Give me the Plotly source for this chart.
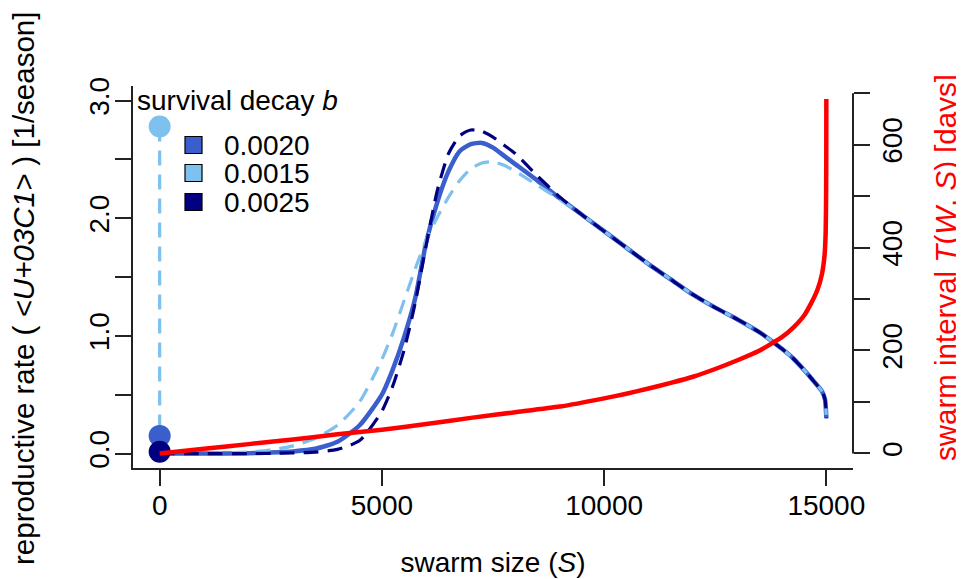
import plotly.graph_objects as go

# ---------------- data ----------------
S = [0, 1000, 2000, 2500, 3000, 3500, 4000, 4500, 5000,
     5250, 5500, 5750, 6000, 6250, 6500, 6750, 7000, 7250, 7500, 7750, 8000,
     8500, 9000, 9500, 10000, 10500, 11000, 11500, 12000, 12500, 13000, 13500, 14000,
     14250, 14500, 14750, 14900, 14970, 15000]

rho_b0020 = [0.0, 0.0, 0.003, 0.008, 0.018, 0.04, 0.10, 0.24, 0.50,
             0.72, 0.99, 1.32, 1.80, 2.14, 2.40, 2.57, 2.63, 2.64, 2.60, 2.53, 2.46,
             2.32, 2.17, 2.03, 1.89, 1.75, 1.61, 1.48, 1.35, 1.24, 1.14, 1.03, 0.89,
             0.81, 0.71, 0.60, 0.53, 0.46, 0.30]

rho_b0015 = [0.0, 0.002, 0.012, 0.03, 0.065, 0.13, 0.24, 0.44, 0.80,
             1.03, 1.30, 1.57, 1.82, 2.01, 2.18, 2.32, 2.42, 2.47, 2.48, 2.45, 2.40,
             2.28, 2.16, 2.03, 1.89, 1.75, 1.61, 1.48, 1.35, 1.24, 1.14, 1.03, 0.89,
             0.81, 0.71, 0.60, 0.53, 0.46, 0.30]

rho_b0025 = [0.0, 0.0, 0.0, 0.002, 0.005, 0.012, 0.035, 0.11, 0.36,
             0.58, 0.88, 1.28, 1.78, 2.24, 2.55, 2.70, 2.75, 2.74, 2.69, 2.62, 2.55,
             2.36, 2.18, 2.03, 1.89, 1.75, 1.61, 1.48, 1.35, 1.24, 1.14, 1.03, 0.89,
             0.81, 0.71, 0.60, 0.53, 0.46, 0.30]

# value of rho at S = 0 for each b
rho0 = {"0.0020": 0.15, "0.0015": 2.78, "0.0025": 0.015}

S_T = [0, 1000, 2000, 3000, 4000, 5000, 6000, 7000, 8000, 9000, 10000, 10500,
       11000, 11500, 12000, 12500, 13000, 13500, 14000, 14250, 14500, 14660,
       14800, 14900, 14960, 14985, 14995, 14999, 15000]
T_days = [0, 9, 18, 27, 37, 46, 57, 69, 80, 91, 107, 116,
          126, 137, 149, 164, 181, 200, 226, 244, 268, 292,
          318, 348, 385, 430, 500, 590, 689]

legend_labels = ["0.0020", "0.0015", "0.0025"]
x_ticks = [0, 5000, 10000, 15000]
y_ticks = [0, 0.5, 1.0, 1.5, 2.0, 2.5, 3.0]
y_ticktext = ["0.0", "", "1.0", "", "2.0", "", "3.0"]
y2_ticks = [0, 100, 200, 300, 400, 500, 600, 700]
y2_ticktext = ["0", "", "200", "", "400", "", "600", ""]

# ---------------- style ----------------
C_ROYAL = "#3A5FCD"
C_LIGHT = "#7EC0EE"
C_NAVY = "#000080"
C_RED = "#FF0000"
AX = "#222222"
FONT = "Liberation Sans, Arial, Helvetica, sans-serif"
FS = 28
FS_YT = 29.5

OFF = 8  # default page margin around the figure div
W, H = 964, 579
# plot area in page pixels: x 133..853, y 86..468
ML, MT = 133 - OFF, 86 - OFF
MR, MB = W - (853 - OFF), H - (468 - OFF)
PW, PH = W - ML - MR, H - MT - MB


def px2x(px):
    return (px - OFF - ML) / PW


def py2y(py):
    return (H - MB - (py - OFF)) / PH


fig = go.Figure()

series = [("0.0020", rho_b0020, C_ROYAL, 4.5, "solid"),
          ("0.0015", rho_b0015, C_LIGHT, 3.2, "15px,9px"),
          ("0.0025", rho_b0025, C_NAVY, 3.2, "15px,9px")]

for lab, vals, col, lw, dash in series:
    # drop from the value at S = 0 to the curve
    fig.add_trace(go.Scatter(x=[S[0], S[0]], y=[rho0[lab], vals[0]], mode="lines",
                             line=dict(color=col, width=lw, dash=dash),
                             showlegend=False, hoverinfo="skip"))
    fig.add_trace(go.Scatter(x=S, y=vals, mode="lines",
                             line=dict(color=col, width=lw, dash=dash, shape="spline",
                                       smoothing=0.6),
                             showlegend=False, hoverinfo="skip"))

# points at S = 0
for lab, col in [("0.0015", C_LIGHT), ("0.0020", C_ROYAL), ("0.0025", C_NAVY)]:
    fig.add_trace(go.Scatter(x=[0], y=[rho0[lab]], mode="markers",
                             marker=dict(color=col, size=22, line=dict(width=0)),
                             showlegend=False, hoverinfo="skip"))

# swarm interval on right axis
fig.add_trace(go.Scatter(x=S_T, y=T_days, mode="lines", yaxis="y2",
                         line=dict(color=C_RED, width=4.5, shape="spline", smoothing=0.5),
                         showlegend=False, hoverinfo="skip"))

axis_common = dict(showgrid=False, zeroline=False, ticks="outside", ticklen=16, tickwidth=2,
                   tickcolor=AX, automargin=False,
                   tickfont=dict(size=FS, color="black", family=FONT))

fig.update_layout(
    template="none",
    width=W, height=H,
    margin=dict(l=ML, r=MR, t=MT, b=MB, autoexpand=False),
    plot_bgcolor="white", paper_bgcolor="white",
    font=dict(family=FONT, size=FS, color="black"),
    showlegend=False,
    xaxis=dict(range=[-600, 15600], tickvals=x_ticks, ticktext=[str(v) for v in x_ticks],
               showline=True, linewidth=2, linecolor=AX, ticklabelstandoff=-5,
               title=dict(text="swarm size (<i>S</i>)", font=dict(size=FS), standoff=33),
               **axis_common),
    yaxis=dict(range=[-0.123, 3.124], tickvals=y_ticks, ticktext=y_ticktext, tickangle=-90,
               showline=True, linewidth=2, linecolor=AX, ticklabelstandoff=-5,
               **axis_common),
    yaxis2=dict(range=[-28.4, 714.1], overlaying="y", side="right", anchor="x",
                tickvals=y2_ticks, ticktext=y2_ticktext, tickangle=-90, showline=False,
                ticklabelstandoff=-2,
                **axis_common),
)

# axis titles of the two y axes (placed like the base-R mtext)
fig.add_annotation(text="reproductive rate ( <i>&lt;U+03C1&gt;</i> ) [1/season]",
                   xref="paper", yref="paper", x=px2x(23), y=py2y(289),
                   xanchor="center", yanchor="middle", textangle=-90, showarrow=False,
                   font=dict(size=FS_YT, color="black"))
fig.add_annotation(text="swarm interval <i>T</i>(<i>W</i>, <i>S</i>) [days]",
                   xref="paper", yref="paper", x=px2x(945), y=py2y(268),
                   xanchor="center", yanchor="middle", textangle=-90, showarrow=False,
                   font=dict(size=FS_YT, color=C_RED))

# right axis line spans only the tick range
fig.add_shape(type="line", xref="paper", yref="y2", x0=1, x1=1, y0=y2_ticks[0], y1=y2_ticks[-1],
              line=dict(color=AX, width=2))

# legend (drawn manually to match the compact base-R legend)
fig.add_annotation(text="survival decay <i>b</i>", xref="paper", yref="paper",
                   x=px2x(135), y=py2y(100), xanchor="left", yanchor="middle",
                   showarrow=False, font=dict(size=FS, color="black"))
leg_cols = [C_ROYAL, C_LIGHT, C_NAVY]
leg_y = [145, 173, 202]
for lab, col, yy in zip(legend_labels, leg_cols, leg_y):
    fig.add_shape(type="rect", xref="paper", yref="paper",
                  x0=px2x(185), x1=px2x(202), y0=py2y(yy + 8.5), y1=py2y(yy - 8.5),
                  fillcolor=col, line=dict(color="black", width=1.2))
    fig.add_annotation(text=lab, xref="paper", yref="paper", x=px2x(222), y=py2y(yy),
                       xanchor="left", yanchor="middle", showarrow=False,
                       font=dict(size=FS, color="black"))

fig.write_html("out.html")
